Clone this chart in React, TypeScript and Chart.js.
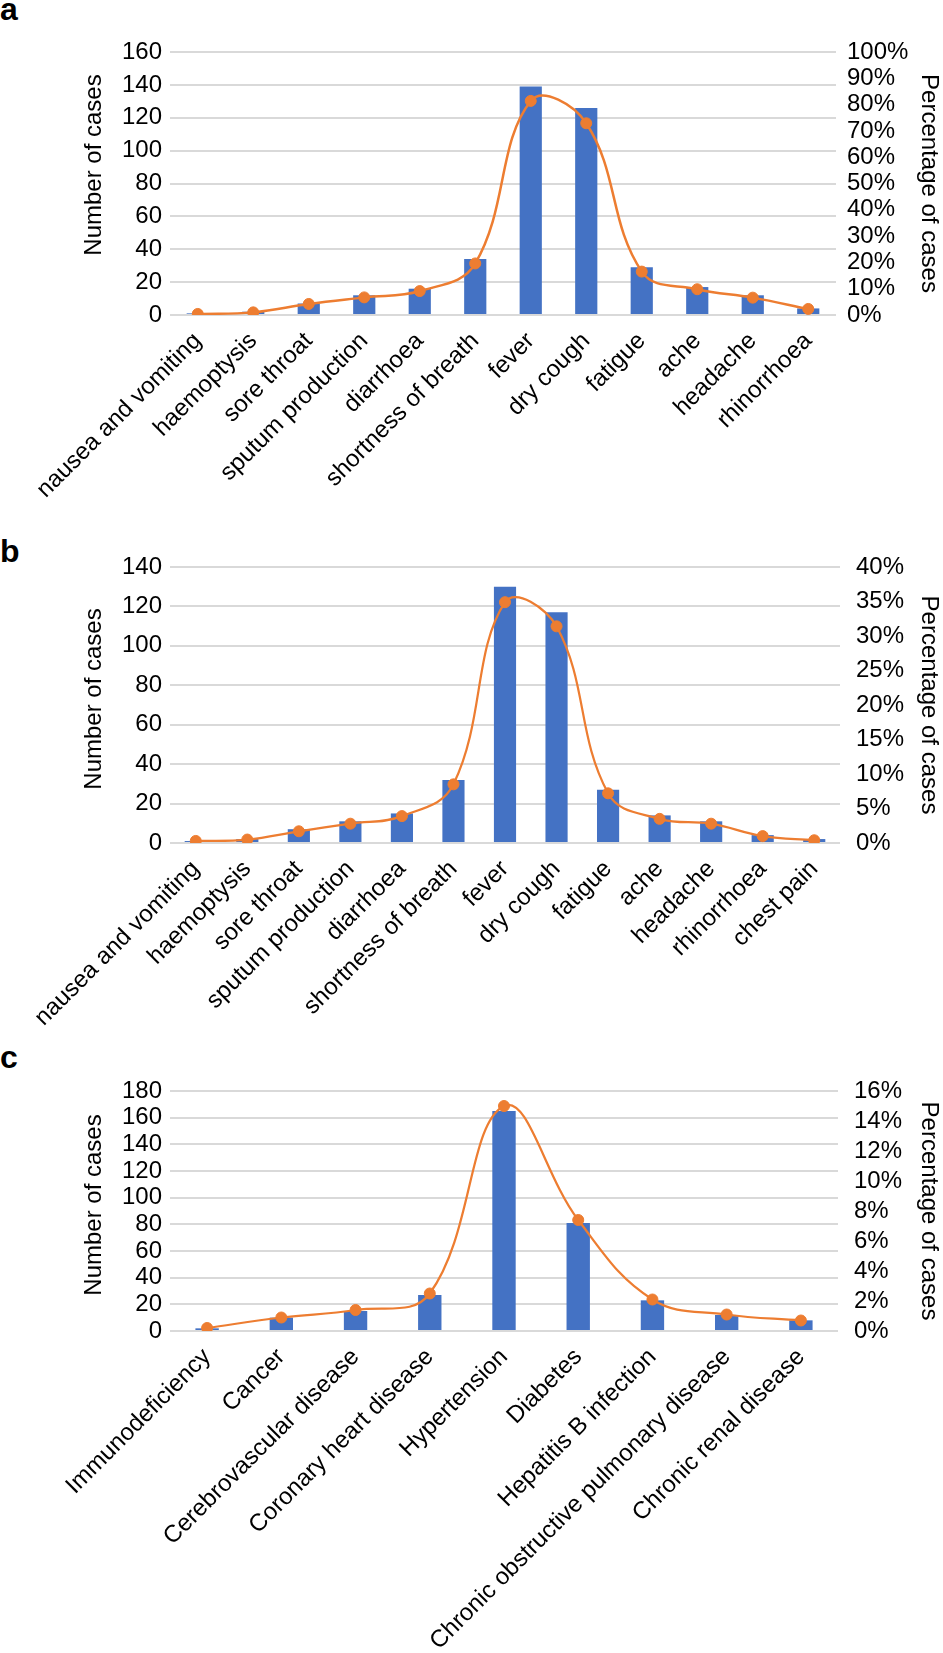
import React, { useEffect, useRef } from 'react';
import { Chart, registerables } from 'chart.js';

Chart.register(...registerables);

const FONT = "'Liberation Sans', Arial, Helvetica, sans-serif";
const BLUE = '#4472C4';
const ORANGE = '#ED7D31';
const GRID = '#d9d9d9';

// ---- Panel a: symptoms ----
const symptomsA = ['nausea and vomiting', 'haemoptysis', 'sore throat', 'sputum production', 'diarrhoea', 'shortness of breath', 'fever', 'dry cough', 'fatigue', 'ache', 'headache', 'rhinorrhoea'];
const casesA = [1, 2, 7, 12, 16, 34, 139, 126, 29, 17, 12, 4];
const pctA = [0.4, 1.0, 4.2, 6.7, 9.1, 19.6, 81.4, 72.9, 16.5, 9.8, 6.6, 2.3];
const leftTicksA = [0, 20, 40, 60, 80, 100, 120, 140, 160];
const rightTicksA = [0, 10, 20, 30, 40, 50, 60, 70, 80, 90, 100];

// ---- Panel b: symptoms ----
const symptomsB = ['nausea and vomiting', 'haemoptysis', 'sore throat', 'sputum production', 'diarrhoea', 'shortness of breath', 'fever', 'dry cough', 'fatigue', 'ache', 'headache', 'rhinorrhoea', 'chest pain'];
const casesB = [1, 2, 7, 11, 15, 32, 130, 117, 27, 14, 11, 4, 2];
const pctB = [0.3, 0.5, 1.7, 2.8, 3.9, 8.5, 34.9, 31.4, 7.2, 3.5, 2.8, 1.0, 0.4];
const leftTicksB = [0, 20, 40, 60, 80, 100, 120, 140];
const rightTicksB = [0, 5, 10, 15, 20, 25, 30, 35, 40];

// ---- Panel c: comorbidities ----
const diseasesC = ['Immunodeficiency', 'Cancer', 'Cerebrovascular disease', 'Coronary heart disease', 'Hypertension', 'Diabetes', 'Hepatitis B infection', 'Chronic obstructive pulmonary disease', 'Chronic renal disease'];
const casesC = [2, 10, 15, 27, 165, 81, 23, 12, 8];
const pctC = [0.2, 0.9, 1.4, 2.5, 15.0, 7.4, 2.1, 1.1, 0.7];
const leftTicksC = [0, 20, 40, 60, 80, 100, 120, 140, 160, 180];
const rightTicksC = [0, 2, 4, 6, 8, 10, 12, 14, 16];

const LEFT_TITLE = 'Number of cases';
const RIGHT_TITLE = 'Percentage of cases';

type PanelProps = {
  letter: string;
  letterTop: number;
  top: number;
  height: number;
  plotTop: number;
  plotBottom: number;
  plotRight: number;
  labels: string[];
  cases: number[];
  pct: number[];
  leftTicks: number[];
  rightTicks: number[];
  barPct: number;
  rightPad: number;
  lineWidth: number;
  leftTitleY: number;
};

const W = 943;

function Panel(p: PanelProps) {
  const ref = useRef<HTMLCanvasElement | null>(null);
  useEffect(() => {
    if (!ref.current) return;
    const font = { family: FONT, size: 24 };
    const leftTitlePlugin = {
      id: 'leftTitle',
      afterDraw(chart: any) {
        const ctx = chart.ctx;
        ctx.save();
        ctx.translate(94, p.leftTitleY);
        ctx.rotate(-Math.PI / 2);
        ctx.textAlign = 'center';
        ctx.textBaseline = 'middle';
        ctx.fillStyle = '#000';
        ctx.font = `24px ${FONT}`;
        ctx.fillText(LEFT_TITLE, 0, 0);
        ctx.restore();
      },
    };
    const chart = new Chart(ref.current, {
      data: {
        labels: p.labels,
        datasets: [
          {
            type: 'line',
            data: p.pct,
            yAxisID: 'y1',
            borderColor: ORANGE,
            backgroundColor: ORANGE,
            borderWidth: p.lineWidth,
            pointRadius: 5.5,
            pointBorderWidth: 1,
            pointBackgroundColor: ORANGE,
            pointBorderColor: ORANGE,
            tension: 0.4,
            order: 1,
          } as any,
          {
            type: 'bar',
            data: p.cases,
            yAxisID: 'y',
            backgroundColor: BLUE,
            borderWidth: 0,
            barPercentage: p.barPct,
            categoryPercentage: 1,
            order: 2,
          } as any,
        ],
      },
      options: {
        animation: false,
        responsive: false,
        devicePixelRatio: 1,
        layout: { padding: { top: p.plotTop, left: 0, right: 0, bottom: 0 } },
        plugins: { legend: { display: false }, tooltip: { enabled: false } },
        scales: {
          x: {
            type: 'category',
            offset: true,
            grid: { display: false },
            border: { display: false },
            ticks: {
              autoSkip: false,
              maxRotation: 45,
              minRotation: 45,
              padding: 4,
              color: '#000',
              font,
            },
            afterFit: (s: any) => {
              s.height = p.height - p.plotBottom;
            },
          },
          y: {
            type: 'linear',
            position: 'left',
            min: p.leftTicks[0],
            max: p.leftTicks[p.leftTicks.length - 1],
            afterBuildTicks: (s: any) => {
              s.ticks = p.leftTicks.map((v) => ({ value: v }));
            },
            grid: { color: GRID, lineWidth: 2, drawTicks: false },
            border: { display: false },
            ticks: { autoSkip: false, padding: 8, color: '#000', font },
            afterFit: (s: any) => {
              s.width = 170;
            },
          },
          y1: {
            type: 'linear',
            position: 'right',
            min: p.rightTicks[0],
            max: p.rightTicks[p.rightTicks.length - 1],
            afterBuildTicks: (s: any) => {
              s.ticks = p.rightTicks.map((v) => ({ value: v }));
            },
            grid: { display: false, drawTicks: false },
            border: { display: false },
            ticks: {
              autoSkip: false,
              padding: p.rightPad,
              color: '#000',
              font,
              callback: (v: any) => `${v}%`,
            },
            title: {
              display: true,
              text: RIGHT_TITLE,
              color: '#000',
              font,
              padding: { top: 0, bottom: 0 },
            },
            afterFit: (s: any) => {
              s.width = W - p.plotRight;
            },
          },
        },
      } as any,
      plugins: [leftTitlePlugin],
    });
    return () => chart.destroy();
  }, []);

  return (
    <>
      <div
        style={{
          position: 'absolute',
          left: 0,
          top: p.letterTop,
          fontFamily: FONT,
          fontWeight: 'bold',
          fontSize: 32,
          lineHeight: '32px',
          color: '#000',
        }}
      >
        {p.letter}
      </div>
      <canvas
        ref={ref}
        width={W}
        height={p.height}
        style={{ position: 'absolute', left: 0, top: p.top, width: W, height: p.height }}
      />
    </>
  );
}

export default function App() {
  return (
    <div style={{ position: 'absolute', left: 0, top: 0, width: W, height: 1653, background: '#fff', overflow: 'hidden' }}>
      <Panel
        letter="a"
        letterTop={-7}
        top={0}
        height={508}
        plotTop={52}
        plotBottom={315}
        plotRight={836}
        labels={symptomsA}
        cases={casesA}
        pct={pctA}
        leftTicks={leftTicksA}
        rightTicks={rightTicksA}
        barPct={0.4}
        rightPad={11}
        lineWidth={2.5}
        leftTitleY={165}
      />
      <Panel
        letter="b"
        letterTop={535}
        top={520}
        height={515}
        plotTop={47}
        plotBottom={323}
        plotRight={840}
        labels={symptomsB}
        cases={casesB}
        pct={pctB}
        leftTicks={leftTicksB}
        rightTicks={rightTicksB}
        barPct={0.43}
        rightPad={16}
        lineWidth={2.25}
        leftTitleY={699 - 520}
      />
      <Panel
        letter="c"
        letterTop={1041}
        top={1040}
        height={613}
        plotTop={51}
        plotBottom={291}
        plotRight={838}
        labels={diseasesC}
        cases={casesC}
        pct={pctC}
        leftTicks={leftTicksC}
        rightTicks={rightTicksC}
        barPct={0.315}
        rightPad={16}
        lineWidth={2.25}
        leftTitleY={1205 - 1040}
      />
    </div>
  );
}
